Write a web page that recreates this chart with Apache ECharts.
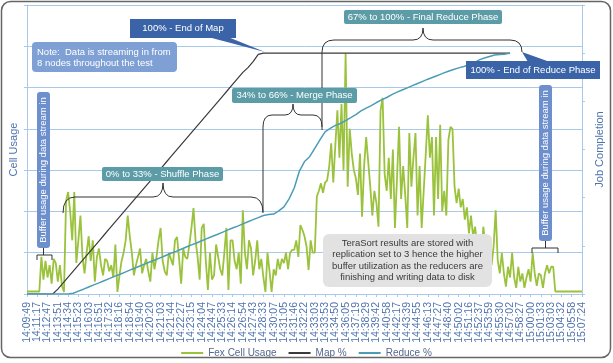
<!DOCTYPE html>
<html><head><meta charset="utf-8">
<script src="https://cdn.jsdelivr.net/npm/echarts@6/dist/echarts.min.js"></script>
<style>html,body{margin:0;padding:0;background:#fff}#c{width:613px;height:363px}</style>
</head><body><div id="c"></div>
<script>
// ---- data ----
const timeLabels = ["14:09:49","14:11:17","14:12:47","14:13:51","14:14:34","14:15:23","14:16:03","14:16:51","14:17:32","14:18:16","14:18:54","14:19:40","14:20:20","14:21:03","14:21:44","14:22:27","14:23:15","14:24:04","14:24:47","14:25:33","14:26:14","14:26:54","14:27:43","14:28:33","14:30:07","14:31:05","14:31:46","14:32:22","14:33:03","14:33:53","14:34:50","14:36:05","14:37:19","14:38:29","14:39:42","14:40:58","14:42:17","14:43:39","14:44:55","14:46:13","14:47:27","14:48:40","14:50:02","14:51:16","14:52:37","14:53:59","14:55:30","14:57:02","14:58:27","15:00:00","15:01:33","15:03:03","15:04:32","15:05:58","15:07:24"];
const seriesNames = ["Fex Cell Usage","Map %","Reduce %"];
const cellStep = 0.2;   // 5 samples per tick-label interval
const cellUsage = [
0.06,0.06,0.06,0.06,0.06,0.06,0.06,
0.9,0.35,0.8,0.4,0.7,0.25,0.85,0.75,0.3,0.7,0.2,0.05,
2.25,2.47,2.0,1.3,2.47,0.75,1.3,1.9,0.9,0.5,1.0,1.4,
0.8,1.3,0.3,0.9,1.1,0.7,0.45,0.85,0.8,0.55,0.7,0.4,
1.2,0.05,0.45,0.8,1.0,1.3,1.9,1.4,1.0,0.45,0.7,0.9,
1.1,0.5,0.7,0.85,0.55,0.3,1.0,0.6,0.9,1.3,1.6,0.8,
0.55,0.45,1.0,0.85,0.7,1.3,1.38,0.85,0.25,1.1,0.9,0.85,
1.2,1.6,2.08,1.3,0.9,0.35,1.6,1.7,0.8,0.1,1.0,0.35,
0.45,1.2,0.9,0.6,0.45,1.0,1.6,0.1,1.3,1.3,0.8,0.6,
1.0,0.25,2.03,1.0,0.6,1.3,1.1,0.45,0.8,1.3,0.6,0.85,
0.4,0.05,1.0,0.55,0.05,0.6,0.45,0.85,0.6,0.85,0.75,1.0,
0.6,1.0,1.07,1.07,1.3,0.9,1.67,1.55,1.4,1.15,0.58,1.3,
1.0,1.0,2.36,2.5,2.68,2.45,2.7,2.75,3.08,3.65,2.7,3.6,
4.45,3.3,4.6,3.0,5.83,2.6,4.0,3.4,3.0,2.8,2.4,3.4,
1.87,3.1,3.8,3.2,2.6,1.9,2.5,2.2,1.63,4.45,4.75,2.9,
2.5,3.3,2.3,3.5,1.6,2.8,4.05,2.3,3.1,2.4,1.6,3.9,
2.6,3.3,3.9,1.9,3.1,1.6,2.5,3.4,4.33,3.3,3.8,1.9,
3.8,2.3,
4.1,2.0,2.5,1.9,3.73,4.05,4.0,2.6,2.2,2.55,2.1,2.3,
1.8,2.1,1.47,1.9,1.4,1.63,1.15,1.3,0.9,1.63,1.15,1.4,
0.98,0.7,1.15,2.03,0.82,0.5,1.0,0.5,0.18,0.66,0.4,1.0,
0.4,0.15,0.66,0.3,0.5,0.15,0.4,0.6,0.3,1.0,0.5,0.2,
0.5,0.45,0.15,0.5,0.7,0.5,0.66,0.66,
0.06,0.06,0.06,0.06,0.06,0.06,0.06,0.06,0.06,0.06,0.06,0.06,0.06,0.06
];
const progStep = 0.5;
const mapPct = [
0,0,0,0,0,0,2,4.5,7,9.5,12,14.5,17,19.5,22,24.5,27,29.5,32,34.5,
37,39.5,42,44.5,47,49.5,52,54.5,57,59.5,62,64.5,67,69.5,72,74.5,77,79.5,82,84.5,
87,89.5,92,94,96.5,99.5,100,100,100,100,100,100,100,100,100,100,100,100,100,100,
100,100,100,100,100,100,100,100,100,100,100,100,100,100,100,100,100,100,100,100,
100,100,100,100,100,100,100,100,100,100,100,100,100,100,100
];
const reducePct = [
0,0,0,0,0,0,0,0,0,0.3,1.2,2.0,2.9,3.8,4.6,5.5,6.4,7.3,8.1,9.0,
9.9,10.8,11.6,12.5,13.4,14.2,15.1,16.0,16.9,17.7,18.6,19.5,20.4,21.2,22.1,23.0,23.9,24.7,25.6,26.5,
27.4,28.2,29.1,30.0,30.9,31.7,32.6,33.0,33.2,34.5,36.2,39.5,44,51,55,57,60.5,64,67.3,68.8,
70,70.8,72,73.2,74.5,76,77.2,78.2,79.5,80.6,81.6,82.8,83.8,84.7,85.6,86.5,87.4,88.3,89.2,90.0,
90.8,91.7,92.5,93.2,93.9,94.5,95.2,96,97.2,98,98.6,99.2,99.4,99.6,100
];

// ---- chart ----
const FONT = '"Liberation Sans", Arial, sans-serif';
const GRID = '#a9c9ea';
const chart = echarts.init(document.getElementById('c'));

const cellData = cellUsage.map((v, i) => [Math.round(i * cellStep * 100) / 100, v]);
const mapData = mapPct.map((v, i) => [i * progStep, v]);
const reduceData = reducePct.map((v, i) => [i * progStep, v]);

function txt(x, y, text, o) {
  o = o || {};
  return {type: 'text', x: x, y: y, rotation: o.rot || 0, z: 110, silent: true,
    style: {text: text, fill: o.fill || '#fff', fontSize: o.size || 9.5, fontFamily: FONT,
      align: o.align || 'center', verticalAlign: 'middle', lineHeight: o.lh || 11}};
}
function box(x, y, w, h, fill, r) {
  return {type: 'rect', z: 105, silent: true, shape: {x: x, y: y, width: w, height: h, r: r || 0}, style: {fill: fill}};
}
function seg(x1, y1, x2, y2) {
  return {type: 'line', z: 104, silent: true, shape: {x1: x1, y1: y1, x2: x2, y2: y2}, style: {stroke: '#333', lineWidth: 1}};
}
function qc(x1, y1, cx, cy, x2, y2) {
  return {type: 'bezierCurve', z: 104, silent: true, shape: {x1: x1, y1: y1, cpx1: cx, cpy1: cy, x2: x2, y2: y2}, style: {stroke: '#333', lineWidth: 1, fill: null}};
}
function brace(x1, x2, y, endY, tipX, tipY, r, r2) {
  return [
    qc(x1, endY, x1, y, x1 + r, y),
    seg(x1 + r, y, tipX - r2, y),
    qc(tipX - r2, y, tipX, y, tipX, tipY),
    qc(tipX, tipY, tipX, y, tipX + r2, y),
    seg(tipX + r2, y, x2 - r, y),
    qc(x2 - r, y, x2, y, x2, endY)
  ];
}
const DARK = '#3b64a8', TEAL = '#5c9ca7', NOTE = '#7fa0d4', VBOX = '#6e8fce';

const graphics = [].concat(
  [{type: 'rect', z: 120, silent: true, shape: {x: 1.5, y: 1.5, width: 609, height: 356, r: 9}, style: {fill: null, stroke: '#666', lineWidth: 1.5}}],
  [box(130, 19, 106, 19, DARK),
   {type: 'polygon', z: 105, silent: true, shape: {points: [[208, 37], [228, 37], [265, 52]]}, style: {fill: DARK}},
   txt(183, 28.5, '100% - End of Map')],
  [box(32, 42, 145, 30, NOTE, 4),
   txt(37, 57.5, 'Note:  Data is streaming in from\n8 nodes throughout the test', {align: 'left'})],
  [box(232, 88, 125, 15, TEAL, 2), txt(294.5, 95.5, '34% to 66% - Merge Phase')],
  brace(263, 322, 115, 127, 293, 104, 9, 8),
  [seg(263, 127, 263, 212)],
  [box(344, 10, 158, 14, TEAL, 2), txt(423, 17, '67% to 100% - Final Reduce Phase')],
  brace(322, 522, 40, 52, 423, 28, 12, 10),
  [seg(322, 52, 322, 130)],
  [box(466, 61, 134, 18, DARK),
   {type: 'polygon', z: 105, silent: true, shape: {points: [[522, 52], [528, 62], [550, 62]]}, style: {fill: DARK}},
   txt(533, 70, '100% - End of Reduce Phase')],
  [box(102, 167, 121, 14, TEAL, 2), txt(162.5, 174, '0% to 33% - Shuffle Phase')],
  brace(63, 263, 197, 213, 163, 183, 12, 10),
  [box(37, 92, 13, 156, VBOX, 3), txt(43.5, 170, 'Buffer usage during data stream in', {rot: Math.PI / 2}),
   seg(43.5, 248, 43.5, 255),
   {type: 'polyline', z: 104, silent: true, shape: {points: [[37, 260], [37, 255], [52, 255], [52, 260]]}, style: {stroke: '#333', lineWidth: 1, fill: null}}],
  [box(539, 85, 13, 156, VBOX, 3), txt(545.5, 163, 'Buffer usage during data stream in', {rot: Math.PI / 2}),
   seg(545.5, 241, 545.5, 248),
   {type: 'polyline', z: 104, silent: true, shape: {points: [[532, 253], [532, 248], [558, 248], [558, 253]]}, style: {stroke: '#333', lineWidth: 1, fill: null}}],
  [box(323, 234, 169, 53, '#e2e2e2', 6),
   txt(407.5, 260.5, 'TeraSort results are stored with\nreplication set to 3 hence the higher\nbuffer utilization as the reducers are\nfinishing and writing data to disk', {fill: '#3a3a3a', lh: 11.5})]
);

chart.setOption({
  animation: false,
  backgroundColor: '#fff',
  textStyle: {fontFamily: FONT},
  grid: {left: 23, right: 29, top: 5, bottom: 69},
  legend: {
    top: 343, left: 'center', icon: 'rect', itemWidth: 22, itemHeight: 2, itemGap: 12,
    textStyle: {fontSize: 10, color: '#56678c', fontFamily: FONT},
    data: seriesNames
  },
  xAxis: [
    { // label axis: one category per time tick label
      type: 'category', data: timeLabels, boundaryGap: false, position: 'bottom',
      axisLine: {lineStyle: {color: GRID, width: 1}},
      axisTick: {show: true, length: 3, interval: 0, lineStyle: {color: GRID}},
      splitLine: {show: false},
      axisLabel: {rotate: 90, interval: 0, fontSize: 10.5, color: '#4f73ad', margin: 8, fontFamily: FONT}
    },
    { // numeric position axis used by the series (same span as the labels)
      type: 'value', min: 0, max: 54, interval: 1, show: false
    }
  ],
  yAxis: [
    {
      type: 'value', min: 0, max: 7, interval: 1, position: 'left',
      name: 'Cell Usage', nameLocation: 'middle', nameGap: 8,
      nameTextStyle: {fontSize: 11, color: '#4f73ad', fontFamily: FONT},
      axisLine: {show: true, lineStyle: {color: GRID}},
      axisTick: {show: true, length: 3, lineStyle: {color: GRID}},
      axisLabel: {show: false},
      splitLine: {show: true, lineStyle: {color: GRID, width: 1}}
    },
    {
      type: 'value', min: 0, max: 120, interval: 20, position: 'right',
      name: 'Job Completion', nameLocation: 'middle', nameGap: 12,
      nameTextStyle: {fontSize: 11, color: '#4f73ad', fontFamily: FONT},
      axisLine: {show: true, lineStyle: {color: GRID}},
      axisTick: {show: true, length: 3, lineStyle: {color: GRID}},
      axisLabel: {show: false},
      splitLine: {show: false}
    }
  ],
  series: [
    {name: seriesNames[0], type: 'line', xAxisIndex: 1, yAxisIndex: 0, data: cellData, showSymbol: false,
     lineStyle: {color: '#9bc23c', width: 1.8}, itemStyle: {color: '#9bc23c'}, z: 2},
    {name: seriesNames[1], type: 'line', xAxisIndex: 1, yAxisIndex: 1, data: mapData, showSymbol: false,
     lineStyle: {color: '#3a3a3a', width: 1.2}, itemStyle: {color: '#3a3a3a'}, z: 3},
    {name: seriesNames[2], type: 'line', xAxisIndex: 1, yAxisIndex: 1, data: reduceData, showSymbol: false,
     lineStyle: {color: '#4d9cb5', width: 1.5}, itemStyle: {color: '#4d9cb5'}, z: 4}
  ],
  graphic: {elements: graphics}
});
</script>
</body></html>
